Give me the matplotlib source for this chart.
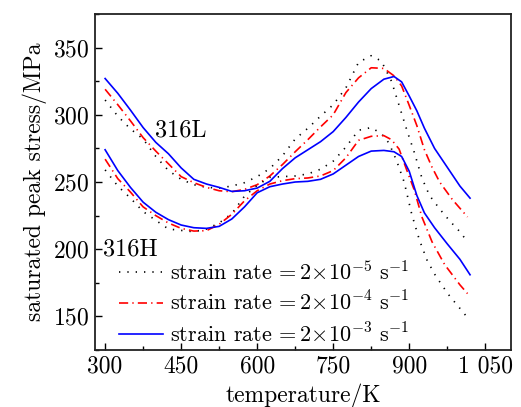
import matplotlib
matplotlib.use("Agg")
import matplotlib.pyplot as plt
from matplotlib.ticker import FixedLocator, MultipleLocator

plt.rcParams['font.family'] = 'serif'
plt.rcParams['font.serif'] = ['cmr10']
plt.rcParams['mathtext.fontset'] = 'cm'
plt.rcParams['axes.unicode_minus'] = False
plt.rcParams['axes.formatter.use_mathtext'] = True

# ---- data: 316L ----
T_L_black = [300, 325, 350, 375, 400, 425, 450, 475, 500, 525, 550, 575, 600, 625, 650, 675, 700, 725, 750,
             775, 800, 825, 845, 865, 880, 895, 910, 925, 940, 960, 980, 1000, 1010]
L_black = [311, 299, 289.5, 282, 269, 258.5, 252, 248, 246, 245.5, 247, 249.5, 254, 260, 269.5, 282, 290, 299,
           307.5, 320, 339, 344, 340, 325, 307, 289, 272, 253, 240, 230, 221, 213, 208]

T_L_red = [300, 325, 350, 375, 400, 425, 450, 475, 500, 525, 550, 575, 600, 625, 650, 675, 700, 725, 750,
           775, 800, 825, 850, 870, 885, 900, 915, 930, 945, 960, 985, 1015]
L_red = [319, 307.5, 295.5, 283, 273, 263.5, 254, 249.5, 246, 243.5, 242.8, 244.5, 248, 254.5, 263, 272.5,
         281.5, 291, 300, 316.5, 327.5, 335, 334.5, 329, 321.5, 307, 292, 274, 261, 250, 237, 224]

T_L_blue = [300, 325, 350, 375, 400, 425, 450, 475, 500, 525, 550, 575, 600, 625, 650, 675, 700, 725, 750,
            775, 800, 825, 850, 870, 885, 900, 915, 930, 950, 975, 1000, 1020]
L_blue = [327, 316, 303.5, 290.5, 279.5, 271, 260.5, 252, 248.5, 246, 243, 243.5, 245.5, 250.5, 260, 268,
          274, 280, 287.5, 298, 309.5, 319.5, 326.5, 328.5, 324.5, 314, 303, 290, 275, 261, 247, 238]

# ---- data: 316H ----
T_H_black = [300, 325, 350, 375, 400, 425, 450, 475, 500, 525, 550, 575, 600, 625, 650, 675, 700, 725, 750,
             775, 800, 825, 845, 860, 875, 890, 905, 920, 935, 950, 965, 980, 1000, 1013]
H_black = [259, 247, 238, 228, 221.5, 215, 214, 213, 215, 219.5, 226.5, 239.5, 247.5, 253.5, 254, 254.5,
           256, 259.5, 265.5, 276, 288.5, 290.5, 286, 279, 266, 250, 226, 207, 192, 181.5, 173, 165, 156, 150]

T_H_red = [300, 325, 350, 375, 400, 425, 450, 475, 500, 525, 550, 575, 600, 625, 650, 675, 700, 725, 750,
           775, 800, 825, 850, 865, 880, 895, 910, 925, 945, 970, 1000, 1015]
H_red = [267, 252.5, 242.5, 231.5, 225, 219.5, 215.5, 213.5, 213.8, 218.5, 226, 236, 243.5, 248.5, 251,
         252.5, 253, 254.5, 258.5, 268, 281, 284, 284.5, 281.5, 274.5, 259, 244, 224, 205.5, 188.5, 173.5, 167]

T_H_blue = [300, 325, 350, 375, 400, 425, 450, 475, 500, 525, 550, 575, 600, 625, 650, 675, 700, 725, 750,
            775, 800, 825, 850, 870, 885, 900, 915, 930, 950, 975, 1000, 1020]
H_blue = [274, 258.5, 246, 235, 227.5, 222, 218, 216, 215.5, 217, 222.5, 231.5, 242, 246.5, 248.5, 250,
          250.5, 252, 256, 262.5, 269, 273, 273.5, 272.5, 269, 258, 240, 227, 216, 204, 192.5, 181]

labels = [r'strain rate$\,=2{\times}10^{-5}\ \mathrm{s}^{-1}$',
          r'strain rate$\,=2{\times}10^{-4}\ \mathrm{s}^{-1}$',
          r'strain rate$\,=2{\times}10^{-3}\ \mathrm{s}^{-1}$']
x_ticks = [300, 450, 600, 750, 900, 1050]
x_ticklabels = ['300', '450', '600', '750', '900', '1 050']
y_ticks = [150, 200, 250, 300, 350]

fig = plt.figure(figsize=(5.21, 4.07), dpi=100)
ax = fig.add_axes([0.1823, 0.140, 0.7987, 0.8256])

lw = 1.2
st_black = dict(color='black', lw=lw, linestyle=(0, (0.8, 4.2)))
st_red = dict(color='red', lw=lw, linestyle=(0, (5.5, 2.5, 0.8, 2.5)))
st_blue = dict(color='blue', lw=lw, linestyle='-')

l1, = ax.plot(T_L_black, L_black, **st_black)
l2, = ax.plot(T_L_red, L_red, **st_red)
l3, = ax.plot(T_L_blue, L_blue, **st_blue)
ax.plot(T_H_black, H_black, **st_black)
ax.plot(T_H_red, H_red, **st_red)
ax.plot(T_H_blue, H_blue, **st_blue)

ax.set_xlim(280, 1101)
ax.set_ylim(125, 375)
ax.xaxis.set_major_locator(FixedLocator(x_ticks))
ax.set_xticklabels(x_ticklabels)
ax.xaxis.set_minor_locator(MultipleLocator(75))
ax.yaxis.set_major_locator(FixedLocator(y_ticks))
ax.yaxis.set_minor_locator(MultipleLocator(25))
ax.tick_params(which='both', direction='in', top=False, right=False, labelsize=17, width=1.0)
ax.tick_params(which='major', length=5, pad=4)
ax.tick_params(which='minor', length=3)
for s in ax.spines.values():
    s.set_linewidth(1.3)
    s.set_color('#222222')

ax.set_xlabel('temperature/K', fontsize=17, labelpad=4)
ax.set_ylabel('saturated peak stress/MPa', fontsize=17, labelpad=4)

ax.text(398, 288, '316L', fontsize=17.5, ha='left', va='center')
ax.text(295, 200, '316H', fontsize=17.5, ha='left', va='center')

ax.legend([l1, l2, l3], labels, loc='lower left', bbox_to_anchor=(0.02, -0.035), frameon=False,
          fontsize=16, handlelength=2.0, handletextpad=0.3, labelspacing=0.33, borderaxespad=0.3)

fig.savefig('out.png', dpi=100)
